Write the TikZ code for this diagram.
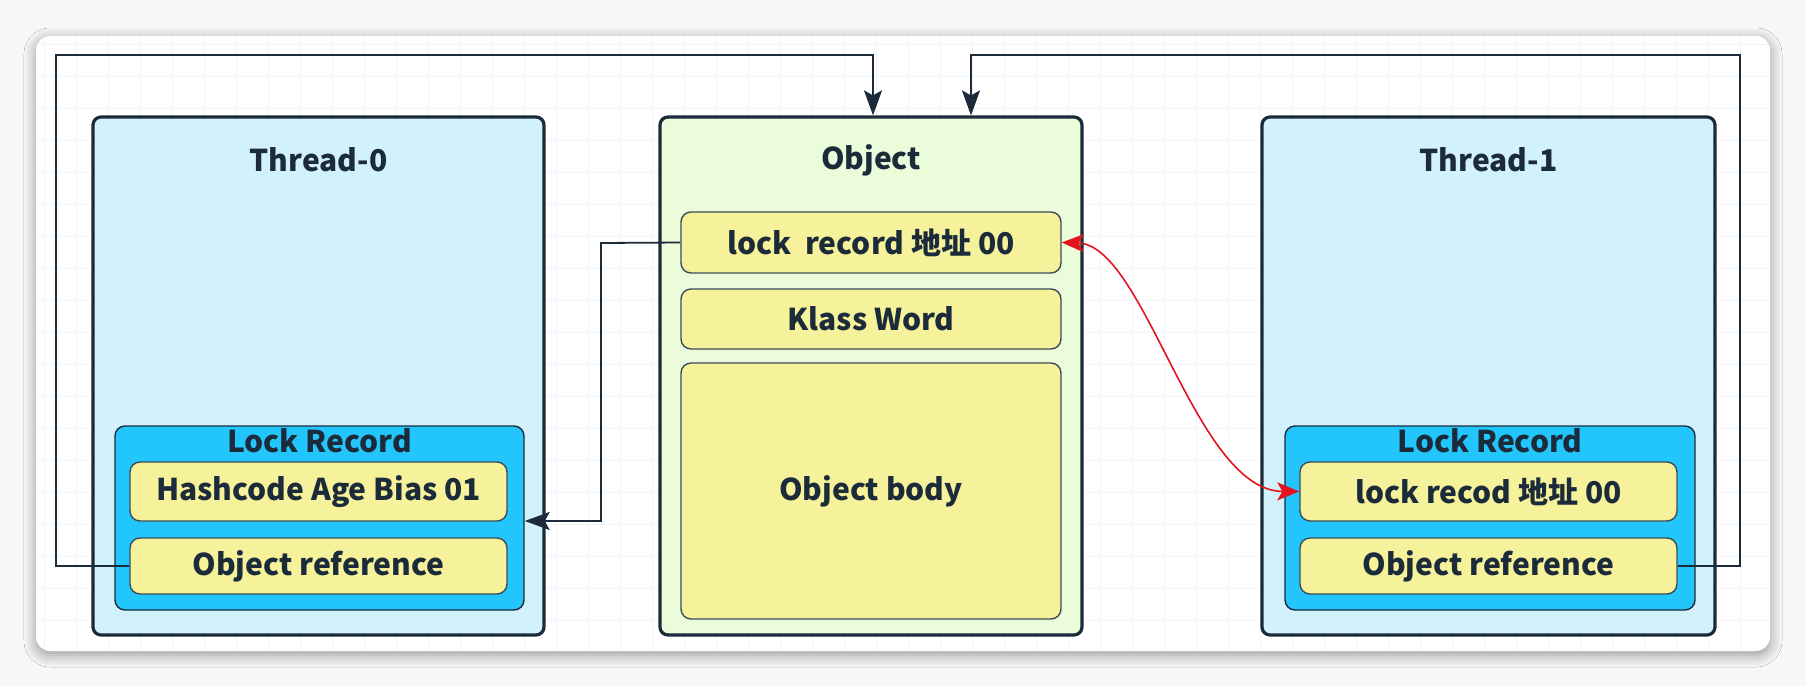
\documentclass[tikz,border=0pt]{standalone}
\usepackage{fontspec}
\setmainfont{Noto Sans CJK SC}
\usetikzlibrary{arrows.meta,shadows.blur}
\definecolor{ink}{HTML}{1C2B3A}
\definecolor{thfill}{HTML}{D1F1FD}
\definecolor{objfill}{HTML}{EAFCD9}
\definecolor{yel}{HTML}{F5F29B}
\definecolor{lrfill}{HTML}{22C6FC}
\definecolor{redc}{HTML}{E3141E}
\definecolor{gridc}{HTML}{F0F4F6}
\begin{document}
\begin{tikzpicture}[x=0.5pt,y=-0.5pt,
  txt/.style={font=\fontsize{15}{18}\selectfont\bfseries, text=ink},
  outerbox/.style={draw=ink, line width=1.6pt, rounded corners=4pt, inner sep=0pt},
  thread/.style={outerbox, fill=thfill},
  objbox/.style={outerbox, fill=objfill},
  lrbox/.style={draw=ink, line width=0.7pt, rounded corners=5pt, fill=lrfill, inner sep=0pt},
  cell/.style={draw=ink!85, line width=0.7pt, rounded corners=5pt, fill=yel, inner sep=0pt, txt},
  conn/.style={draw=ink, line width=0.9pt, -{Stealth[length=12.5pt,width=9pt,inset=2.5pt]}},
  rconn/.style={draw=redc, line width=0.8pt, {Stealth[length=11pt,width=9pt,inset=2.5pt]}-{Stealth[length=11pt,width=9pt,inset=2.5pt]}}
]
\useasboundingbox (0,0) rectangle (1806,686);
\fill[white!97!black] (0,0) rectangle (1806,686);
% card
\path[fill=white, rounded corners=7pt, blur shadow={shadow blur steps=8, shadow xshift=0pt, shadow yshift=-2pt, shadow blur radius=6pt}] (36,36) rectangle (1770,651);
\begin{scope}
\clip[rounded corners=7pt] (36,36) rectangle (1770,651);
\foreach \gx in {44,76,...,1770} \draw[gridc, line width=0.4pt] (\gx,36) -- (\gx,651);
\foreach \gy in {44,76,...,651} \draw[gridc, line width=0.4pt] (36,\gy) -- (1770,\gy);
\end{scope}

% Thread-0
\node[thread, minimum width=225.5pt, minimum height=259pt] (t0) at (318.5,376) {};
\node[txt] (t0t) at (318.5,160) {Thread-0};
\node[lrbox, minimum width=204.5pt, minimum height=92pt] (lr0) at (319.5,518) {};
\node[txt] (lr0t) at (319.5,441) {Lock Record};
\node[cell, minimum width=188.5pt, minimum height=29.5pt] (hash0) at (318.5,491.5) {Hashcode Age Bias 01};
\node[cell, minimum width=188.5pt, minimum height=28pt] (oref0) at (318.5,566) {Object reference};

% Object
\node[objbox, minimum width=211pt, minimum height=259pt] (obj) at (871,376) {};
\node[txt] (objt) at (871,160) {Object};
\node[cell, minimum width=190pt, minimum height=30.5pt] (lrec) at (871,242.5) {lock\ \ record 地址 00};
\node[cell, minimum width=190pt, minimum height=30pt] (klass) at (871,319) {Klass Word};
\node[cell, minimum width=190pt, minimum height=128pt] (body) at (871,491) {Object body};

% Thread-1
\node[thread, minimum width=226.5pt, minimum height=259pt] (t1) at (1488.5,376) {};
\node[txt] (t1t) at (1488.5,160) {Thread-1};
\node[lrbox, minimum width=205pt, minimum height=92pt] (lr1) at (1490,518) {};
\node[txt] (lr1t) at (1490,441) {Lock Record};
\node[cell, minimum width=188.5pt, minimum height=29.5pt] (lrec1) at (1488.5,491.5) {lock recod 地址 00};
\node[cell, minimum width=188.5pt, minimum height=28pt] (oref1) at (1488.5,566) {Object reference};

% connectors
\draw[conn] (oref0.west) -- (56,566) -- (56,55) -- (873,55) -- ([xshift=1pt]obj.north);
\draw[conn] (oref1.east) -- (1740,566) -- (1740,55) -- (971,55) -- ([xshift=50pt]obj.north);
\draw[conn] (lrec.west) -- (601,243) -- (601,521) -- (lr0.east |- 0,521);
\draw[rconn] (lrec.east) .. controls (1145,245) and (1195,491) .. (lrec1.west);
\end{tikzpicture}
\end{document}
